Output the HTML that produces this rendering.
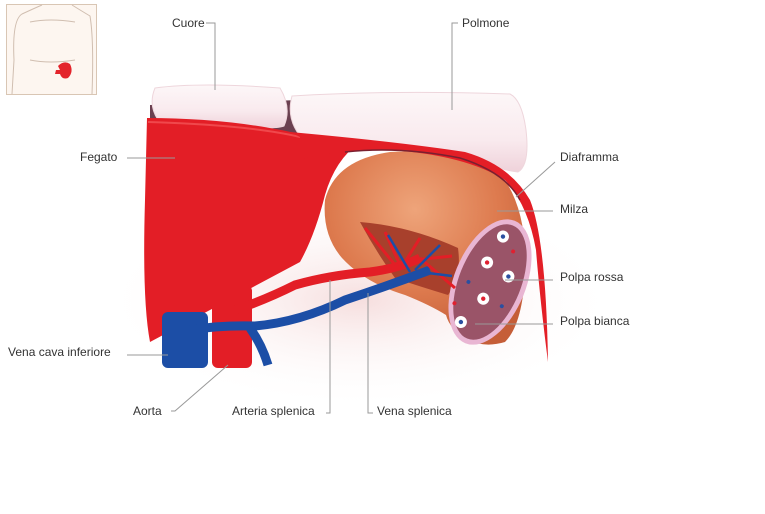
<!DOCTYPE html>
<html><head><meta charset="utf-8"><style>
html,body{margin:0;padding:0;background:#fff;width:765px;height:514px;overflow:hidden}
svg{display:block}
text{font-family:"Liberation Sans",sans-serif;font-size:12px;fill:#333}
.l{stroke:#999;stroke-width:1;fill:none}
</style></head><body>
<svg width="765" height="514" viewBox="0 0 765 514" xmlns="http://www.w3.org/2000/svg">
<defs>
<radialGradient id="sh" cx="0.5" cy="0.5" r="0.5">
<stop offset="0" stop-color="#f6dede"/><stop offset="1" stop-color="#fff" stop-opacity="0"/>
</radialGradient>
<radialGradient id="sp" cx="0.45" cy="0.3" r="0.7">
<stop offset="0" stop-color="#eea47a"/><stop offset="0.6" stop-color="#dd7a4e"/><stop offset="1" stop-color="#c55e38"/>
</radialGradient>
<linearGradient id="lu" x1="0" y1="0" x2="0" y2="1">
<stop offset="0" stop-color="#fdf7f8"/><stop offset="0.6" stop-color="#f9eaee"/><stop offset="1" stop-color="#efd2da"/>
</linearGradient>
</defs>
<ellipse cx="360" cy="300" rx="260" ry="110" fill="url(#sh)"/>
<rect x="6.5" y="4.5" width="90" height="90" fill="#fdf6f0" stroke="#d9c6b4"/>
<path d="M12 94 L14 60 Q12 20 22 14 Q35 8 42 5 M72 5 Q80 10 90 16 Q94 40 92 94 M30 60 Q50 64 75 60 M30 22 Q50 18 75 22" stroke="#d0beb0" fill="none"/>
<path d="M58 66 Q64 60 70 64 Q74 72 68 78 Q62 80 60 74 L55 74 L56 70 L60 70 Z" fill="#e3242b"/>
<path d="M150 105 L300 100 L300 140 L150 122 Z" fill="#6b4050"/>
<path d="M155 88 Q200 82 280 88 Q292 108 284 126 Q270 131 200 124 L158 120 Q148 105 155 88 Z" fill="url(#lu)" stroke="#eed6dc"/>
<path d="M292 96 Q390 90 510 94 Q522 100 526 130 Q530 165 518 172 Q490 168 470 158 Q420 146 300 136 Q286 118 292 96 Z" fill="url(#lu)" stroke="#eed6dc"/>
<path d="M147 118 Q230 118 300 134 L360 142 Q335 160 325 195 Q315 235 300 262 L150 342 Q142 300 145 200 Z" fill="#e31e26"/>
<path d="M148 122 Q250 125 300 137" stroke="#f0484c" stroke-width="2" fill="none"/>
<path d="M325 200 Q335 160 390 152 Q460 148 505 180 Q528 215 525 275 Q522 325 505 342 Q485 348 468 340 Q450 330 446 315 Q430 305 405 295 Q365 283 342 258 Q322 235 325 200 Z" fill="url(#sp)"/>
<path d="M360 222 Q410 226 458 248 Q462 278 448 295 Q415 285 395 278 Q375 250 360 222 Z" fill="#a8402c"/>
<path d="M290 132 Q400 142 465 152 Q510 165 530 200 Q546 240 548 362 Q540 300 536 250 Q528 205 505 180 Q465 155 390 150 Q330 150 300 160 L300 137 Z" fill="#e31e26"/>
<path d="M345 152 Q400 146 460 158 Q505 172 520 200" stroke="#7a2030" stroke-width="1.5" fill="none"/>
<g transform="rotate(22 490 282)">
<ellipse cx="490" cy="282" rx="36" ry="66" fill="#e9b6d3"/>
<ellipse cx="490" cy="282" rx="31" ry="61" fill="#9a5468"/>
<g fill="#fff"><circle cx="485" cy="235" r="6"/><circle cx="480" cy="265" r="6"/><circle cx="505" cy="270" r="6"/><circle cx="490" cy="300" r="6"/><circle cx="478" cy="330" r="6"/></g>
<g fill="#2a4fa0"><circle cx="485" cy="235" r="2.2"/><circle cx="505" cy="270" r="2.2"/><circle cx="478" cy="330" r="2.2"/><circle cx="470" cy="290" r="2"/><circle cx="510" cy="300" r="2"/></g>
<g fill="#e02030"><circle cx="480" cy="265" r="2.2"/><circle cx="490" cy="300" r="2.2"/><circle cx="500" cy="245" r="2"/><circle cx="465" cy="315" r="2"/></g>
</g>
<rect x="162" y="312" width="46" height="56" rx="6" fill="#1c4ea6"/>
<rect x="212" y="285" width="40" height="83" rx="6" fill="#e31e26"/>
<path d="M235 310 Q265 300 295 285 Q330 275 370 272 Q400 268 420 258" stroke="#e31e26" stroke-width="9" fill="none"/>
<path d="M190 330 Q220 325 255 326 Q300 322 345 300 Q390 285 430 270" stroke="#1c4ea6" stroke-width="9" fill="none"/>
<path d="M250 328 Q262 345 268 365" stroke="#1c4ea6" stroke-width="9" fill="none"/>
<g stroke="#e31e26" stroke-width="3" fill="none"><path d="M400 265 L385 232 M405 262 L420 238 M415 260 L452 256 M420 258 L455 288 M395 265 L365 228"/></g>
<g stroke="#1c4ea6" stroke-width="2.5" fill="none"><path d="M410 272 L388 235 M415 270 L440 245 M420 272 L452 276"/></g>
<path class="l" d="M206 23 H215 V90"/>
<path class="l" d="M458 23 H452 V110"/>
<path class="l" d="M127 158 H175"/>
<path class="l" d="M555 162 L516 197"/>
<path class="l" d="M497 211 H553"/>
<path class="l" d="M505 280 H553"/>
<path class="l" d="M475 324 H553"/>
<path class="l" d="M127 355 H168"/>
<path class="l" d="M171 411 H175 L228 365"/>
<path class="l" d="M326 413 H330 V280"/>
<path class="l" d="M373 413 H368 V293"/>
<text x="172" y="27">Cuore</text>
<text x="462" y="27">Polmone</text>
<text x="80" y="161">Fegato</text>
<text x="560" y="161">Diaframma</text>
<text x="560" y="213">Milza</text>
<text x="560" y="281">Polpa rossa</text>
<text x="560" y="325">Polpa bianca</text>
<text x="8" y="356">Vena cava inferiore</text>
<text x="133" y="415">Aorta</text>
<text x="232" y="415">Arteria splenica</text>
<text x="377" y="415">Vena splenica</text>
</svg>
</body></html>
